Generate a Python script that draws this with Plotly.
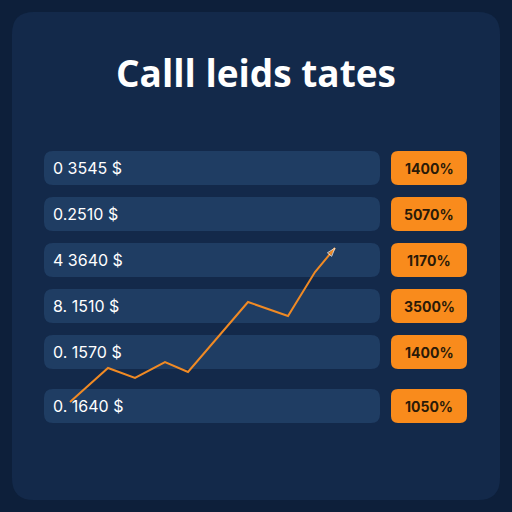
import plotly.graph_objects as go

title = "Calll leids tates"
row_labels = ["0 3545 $", "0.2510 $", "4 3640 $", "8. 1510 $", "0. 1570 $", "0. 1640 $"]
badges = ["1400%", "5070%", "1170%", "3500%", "1400%", "1050%"]
row_y = [168, 214, 260, 306, 352, 406]
trend_x = [70, 108, 135, 165, 188, 248, 288, 315, 335]
trend_y = [402, 368, 378, 362, 372, 302, 316, 272, 248]

def rr(x0, y0, x1, y1, r):
    return (f"M{x0+r},{y0} L{x1-r},{y0} Q{x1},{y0} {x1},{y0+r} L{x1},{y1-r} Q{x1},{y1} {x1-r},{y1} "
            f"L{x0+r},{y1} Q{x0},{y1} {x0},{y1-r} L{x0},{y0+r} Q{x0},{y0} {x0+r},{y0} Z")

shapes = [dict(type="path", path=rr(12, 12, 500, 500, 22), fillcolor="#13294a", line_width=0, layer="below")]
ann = [dict(x=256, y=72, text=f"<b>{title}</b>", showarrow=False,
            font=dict(family="Open Sans", size=37, color="white"))]
for y, lab, b in zip(row_y, row_labels, badges):
    shapes.append(dict(type="path", path=rr(44, y-17, 380, y+17, 9), fillcolor="#1f3d63", line_width=0, layer="below"))
    shapes.append(dict(type="path", path=rr(391, y-17, 467, y+17, 7), fillcolor="#f98b1c", line_width=0, layer="below"))
    ann.append(dict(x=51, y=y, text=lab, xanchor="left", showarrow=False,
                    font=dict(family="Inter", size=16, color="white")))
    ann.append(dict(x=429, y=y, text=f"<b>{b}</b>", showarrow=False,
                    font=dict(family="Inter", size=14, color="#2a1a08")))

fig = go.Figure(go.Scatter(x=trend_x, y=trend_y, mode="lines+markers",
                           line=dict(color="#f08a24", width=2),
                           marker=dict(symbol="arrow", angleref="previous", size=[0]*8+[9], color="#f08a24")))
fig.update_layout(width=512, height=512, margin=dict(l=0, r=0, t=0, b=0),
                  paper_bgcolor="#0d1f3a", plot_bgcolor="rgba(0,0,0,0)", showlegend=False,
                  shapes=shapes, annotations=ann,
                  xaxis=dict(range=[0, 512], visible=False, fixedrange=True),
                  yaxis=dict(range=[512, 0], visible=False, fixedrange=True))
fig.write_html("out.html", config={"displayModeBar": False},
               post_script="document.body.style.margin='0';document.body.style.overflow='hidden';")
